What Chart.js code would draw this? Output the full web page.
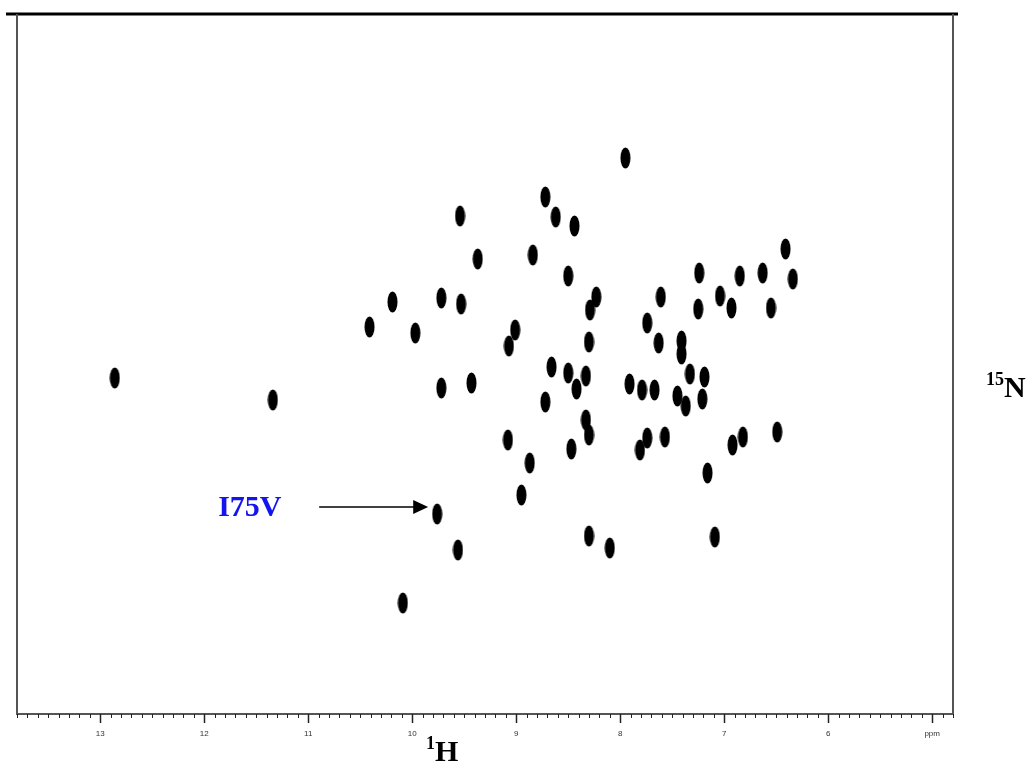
<!DOCTYPE html>
<html>
<head>
<meta charset="utf-8">
<script src="https://cdn.jsdelivr.net/npm/chart.js@4"></script>
<style>
  body { margin: 0; background: #fff; }
  #wrap { position: relative; width: 1034px; height: 783px; }
  .axlab { position: absolute; font-family: "Liberation Serif", serif; font-weight: bold; font-size: 30px; line-height: 30px; color: #000; }
  .axlab sup { font-size: 18px; vertical-align: baseline; position: relative; top: -12px; }
</style>
</head>
<body>
<div id="wrap">
  <canvas id="hsqc"></canvas>
  <div class="axlab" style="left:426px; top:736px;"><sup>1</sup>H</div>
  <div class="axlab" style="left:986px; top:372px;"><sup>15</sup>N</div>
</div>
<script>
// peak positions, 1H (ppm) and 15N (ppm)
const hPpm = [7.95, 8.72, 8.62, 8.44, 9.54, 9.37, 8.84, 8.50, 6.41, 6.34,
              6.63, 6.85, 7.24, 7.61, 8.23, 8.29, 7.04, 6.93, 6.55, 7.25,
              7.74, 10.19, 9.72, 9.53, 10.41, 9.97, 9.01, 9.07, 8.30, 7.63,
              7.41, 7.41, 12.86, 11.34, 9.72, 9.43, 8.66, 8.50, 8.33, 8.42,
              7.91, 7.79, 7.67, 7.45, 7.37, 7.33, 7.19, 7.21, 8.72, 9.08,
              8.87, 8.33, 8.30, 8.47, 7.74, 7.81, 7.57, 6.92, 6.82, 6.49,
              7.16, 8.95, 9.76, 9.56, 8.30, 8.10, 7.09, 10.09];
const nPpm = [107.2, 109.15, 110.15, 110.6, 110.1, 112.25, 112.05, 113.1, 111.75, 113.25,
              112.95, 113.1, 112.95, 114.15, 114.15, 114.8, 114.1, 114.7, 114.7, 114.75,
              115.45, 114.4, 114.2, 114.5, 115.65, 115.95, 115.8, 116.6, 116.4, 116.45,
              116.35, 117.0, 118.2, 119.3, 118.7, 118.45, 117.65, 117.95, 118.1, 118.75,
              118.5, 118.8, 118.8, 119.1, 119.6, 118.0, 118.15, 119.25, 119.4, 121.3,
              122.45, 120.3, 121.05, 121.75, 121.2, 121.8, 121.15, 121.55, 121.15, 120.9,
              122.95, 124.05, 125.0, 126.8, 126.1, 126.7, 126.15, 129.45];

const xMajorTicks = [13, 12, 11, 10, 9, 8, 7, 6, 5];
const xTickLabels = ['13', '12', '11', '10', '9', '8', '7', '6', 'ppm'];

// annotated peak
const markLabel = 'I75V';
const markIndex = 62;

// contour-like peak shape
const peakImg = document.createElement('canvas');
peakImg.width = 11;
peakImg.height = 22;
const pctx = peakImg.getContext('2d');
pctx.fillStyle = '#000';
pctx.beginPath();
pctx.ellipse(5.5, 11, 5, 10.5, 0, 0, Math.PI * 2);
pctx.fill();

const framePlugin = {
  id: 'frame',
  afterDraw(chart) {
    const { ctx, chartArea: a } = chart;
    const xs = chart.scales.x, ys = chart.scales.y;
    ctx.save();

    // frame
    ctx.strokeStyle = '#000';
    ctx.lineWidth = 3;
    ctx.beginPath();
    ctx.moveTo(a.left - 11, a.top);
    ctx.lineTo(a.right + 5, a.top);
    ctx.stroke();

    ctx.strokeStyle = '#555';
    ctx.lineWidth = 2;
    ctx.beginPath();
    ctx.moveTo(a.left, a.top);
    ctx.lineTo(a.left, a.bottom);
    ctx.lineTo(a.right, a.bottom);
    ctx.lineTo(a.right, a.top);
    ctx.stroke();

    // major / minor ticks
    ctx.strokeStyle = '#222';
    xs.ticks.forEach(t => {
      const major = Math.abs(t.value - Math.round(t.value)) < 1e-6;
      const px = Math.round(xs.getPixelForValue(t.value)) + 0.5;
      ctx.lineWidth = major ? 1.5 : 1;
      ctx.beginPath();
      ctx.moveTo(px, a.bottom);
      ctx.lineTo(px, a.bottom + (major ? 9 : 4));
      ctx.stroke();
    });

    // arrow to the labelled peak
    const px = xs.getPixelForValue(hPpm[markIndex]);
    const py = ys.getPixelForValue(nPpm[markIndex]);
    const tipX = px - 9, tipY = py - 7;
    const startX = tipX - 109;
    ctx.strokeStyle = '#000';
    ctx.fillStyle = '#000';
    ctx.lineWidth = 1.5;
    ctx.beginPath();
    ctx.moveTo(startX, tipY);
    ctx.lineTo(tipX - 12, tipY);
    ctx.stroke();
    ctx.beginPath();
    ctx.moveTo(tipX, tipY);
    ctx.lineTo(tipX - 15, tipY - 7);
    ctx.lineTo(tipX - 15, tipY + 7);
    ctx.closePath();
    ctx.fill();

    ctx.fillStyle = '#1414f0';
    ctx.font = 'bold 30px "Liberation Serif", serif';
    ctx.textBaseline = 'alphabetic';
    ctx.fillText(markLabel, startX - 101, tipY + 9);
    ctx.restore();
  }
};

new Chart(document.getElementById('hsqc'), {
  type: 'scatter',
  data: {
    datasets: [{
      data: hPpm.map((h, i) => ({ x: h, y: nPpm[i] })),
      pointStyle: peakImg,
      pointHoverRadius: 0
    }]
  },
  options: {
    responsive: true,
    maintainAspectRatio: false,
    animation: false,
    events: [],
    layout: { padding: { left: 17, right: 81, top: 14, bottom: 29 } },
    plugins: {
      legend: { display: false },
      tooltip: { enabled: false }
    },
    scales: {
      x: {
        type: 'linear',
        min: 4.8,
        max: 13.8,
        reverse: true,
        grid: { display: false },
        border: { display: false },
        afterFit: scale => { scale.height = 40; },
        ticks: {
          stepSize: 0.1,
          autoSkip: false,
          maxRotation: 0,
          padding: 7,
          color: '#333',
          font: { size: 8, family: 'Arial, "Liberation Sans", sans-serif' },
          callback: value => {
            const i = xMajorTicks.findIndex(t => Math.abs(t - value) < 1e-6);
            return i >= 0 ? xTickLabels[i] : '';
          }
        }
      },
      y: {
        type: 'linear',
        min: 100,
        max: 135,
        reverse: true,
        display: false
      }
    }
  },
  plugins: [framePlugin]
});
</script>
</body>
</html>
